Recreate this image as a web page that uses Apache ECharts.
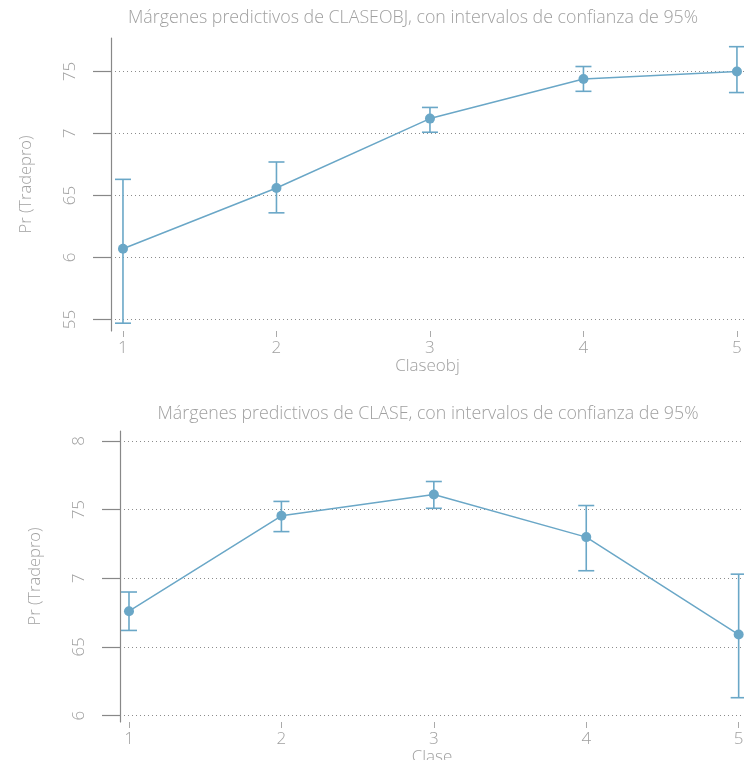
<!DOCTYPE html>
<html>
<head>
<meta charset="utf-8">
<script src="https://cdn.jsdelivr.net/npm/echarts@6/dist/echarts.min.js"></script>
<style>html,body{margin:0;padding:0;background:#fff}#c{width:744px;height:760px}</style>
</head>
<body>
<div id="c"></div>
<script>
// ---- data ----
var claseobjCats = [1, 2, 3, 4, 5];
var claseobjMargin = [0.607, 0.656, 0.712, 0.744, 0.750];
var claseobjLower = [0.547, 0.636, 0.701, 0.734, 0.733];
var claseobjUpper = [0.663, 0.677, 0.721, 0.754, 0.770];

var claseCats = [1, 2, 3, 4, 5];
var claseMargin = [0.676, 0.7455, 0.761, 0.730, 0.659];
var claseLower = [0.662, 0.734, 0.751, 0.7055, 0.613];
var claseUpper = [0.690, 0.756, 0.7705, 0.753, 0.703];

var yTicksTop = [0.55, 0.6, 0.65, 0.7, 0.75];
var yTickLabelsTop = ['55', '6', '65', '7', '75'];
var yTicksBottom = [0.6, 0.65, 0.7, 0.75, 0.8];
var yTickLabelsBottom = ['6', '65', '7', '75', '8'];
var xTicks = [1, 2, 3, 4, 5];
var xTickLabels = ['1', '2', '3', '4', '5'];

var titleTop = 'Márgenes predictivos de CLASEOBJ, con intervalos de confianza de 95%';
var titleBottom = 'Márgenes predictivos de CLASE, con intervalos de confianza de 95%';
var yName = 'Pr (Tradepro)';
var xNameTop = 'Claseobj';
var xNameBottom = 'Clase';

// ---- styles ----
var FONT = '"Open Sans", Lato, sans-serif';
var FS = 17;
var TXT = '#a0a0a0';
var BLUE = '#6aa7c7';

function labelFrom(ticks, labels) {
  return function (v) {
    var best = 0, d = Infinity;
    for (var i = 0; i < ticks.length; i++) {
      var dd = Math.abs(ticks[i] - v);
      if (dd < d) { d = dd; best = i; }
    }
    return labels[best];
  };
}

function xAxisCfg(grid, min, max, name, labelMargin, nameGap) {
  return {
    type: 'value', gridIndex: grid, min: min, max: max,
    axisLine: { show: false },
    axisTick: { show: true, customValues: xTicks, length: 6, lineStyle: { color: '#aaa', width: 1 } },
    axisLabel: { customValues: xTicks, formatter: labelFrom(xTicks, xTickLabels), color: TXT, fontFamily: FONT, fontWeight: 300, fontSize: FS, margin: labelMargin },
    splitLine: { show: false },
    name: name, nameLocation: 'middle', nameGap: nameGap,
    nameTextStyle: { color: TXT, fontFamily: FONT, fontWeight: 300, fontSize: FS }
  };
}

function yAxisCfg(grid, min, max, ticks, labels, nameGap) {
  return {
    type: 'value', gridIndex: grid, min: min, max: max,
    axisLine: { show: true, lineStyle: { color: '#888', width: 1.2 } },
    axisTick: { show: true, customValues: ticks, length: 18, lineStyle: { color: '#888', width: 1.2 } },
    axisLabel: { customValues: ticks, formatter: labelFrom(ticks, labels), rotate: 90, color: TXT, fontFamily: FONT, fontWeight: 300, fontSize: FS, margin: 32 },
    splitLine: { show: true, lineStyle: { color: '#8c8c8c', type: [1, 3], width: 1 } },
    name: yName, nameLocation: 'middle', nameGap: nameGap,
    nameTextStyle: { color: TXT, fontFamily: FONT, fontWeight: 300, fontSize: 16.5 }
  };
}

function errRender(params, api) {
  var x = api.value(0);
  var lo = api.coord([x, api.value(1)]);
  var hi = api.coord([x, api.value(2)]);
  var hw = 8;
  var st = { stroke: BLUE, lineWidth: 1.6 };
  return {
    type: 'group',
    children: [
      { type: 'line', shape: { x1: lo[0], y1: lo[1], x2: hi[0], y2: hi[1] }, style: st },
      { type: 'line', shape: { x1: lo[0] - hw, y1: lo[1], x2: lo[0] + hw, y2: lo[1] }, style: st },
      { type: 'line', shape: { x1: hi[0] - hw, y1: hi[1], x2: hi[0] + hw, y2: hi[1] }, style: st }
    ]
  };
}

function zip3(a, b, c) { return a.map(function (v, i) { return [v, b[i], c[i]]; }); }
function zip2(a, b) { return a.map(function (v, i) { return [v, b[i]]; }); }

var chart = echarts.init(document.getElementById('c'), null, { renderer: 'canvas' });
chart.setOption({
  animation: false,
  backgroundColor: '#fff',
  graphic: [
    { type: 'text', x: 413, y: 18, style: { text: titleTop, align: 'center', verticalAlign: 'middle', fill: TXT, font: '300 17.8px ' + FONT } },
    { type: 'text', x: 428, y: 414, style: { text: titleBottom, align: 'center', verticalAlign: 'middle', fill: TXT, font: '300 17.8px ' + FONT } }
  ],
  grid: [
    { left: 111, right: 0, top: 38, height: 293, containLabel: false, outerBoundsMode: 'none' },
    { left: 120, right: 0, top: 431, height: 291, containLabel: false, outerBoundsMode: 'none' }
  ],
  xAxis: [
    xAxisCfg(0, 0.922, 5.046, xNameTop, 9, 24),
    xAxisCfg(1, 0.941, 5.035, xNameBottom, 9, 20)
  ],
  yAxis: [
    yAxisCfg(0, 0.5407, 0.777, yTicksTop, yTickLabelsTop, 76),
    yAxisCfg(1, 0.5953, 0.8073, yTicksBottom, yTickLabelsBottom, 76)
  ],
  series: [
    { type: 'custom', xAxisIndex: 0, yAxisIndex: 0, renderItem: errRender, data: zip3(claseobjCats, claseobjLower, claseobjUpper), z: 2 },
    { type: 'line', xAxisIndex: 0, yAxisIndex: 0, data: zip2(claseobjCats, claseobjMargin), symbol: 'circle', symbolSize: 10,
      lineStyle: { color: BLUE, width: 1.5 }, itemStyle: { color: BLUE }, z: 3 },
    { type: 'custom', xAxisIndex: 1, yAxisIndex: 1, renderItem: errRender, data: zip3(claseCats, claseLower, claseUpper), z: 2 },
    { type: 'line', xAxisIndex: 1, yAxisIndex: 1, data: zip2(claseCats, claseMargin), symbol: 'circle', symbolSize: 10,
      lineStyle: { color: BLUE, width: 1.5 }, itemStyle: { color: BLUE }, z: 3 }
  ]
});
</script>
</body>
</html>
